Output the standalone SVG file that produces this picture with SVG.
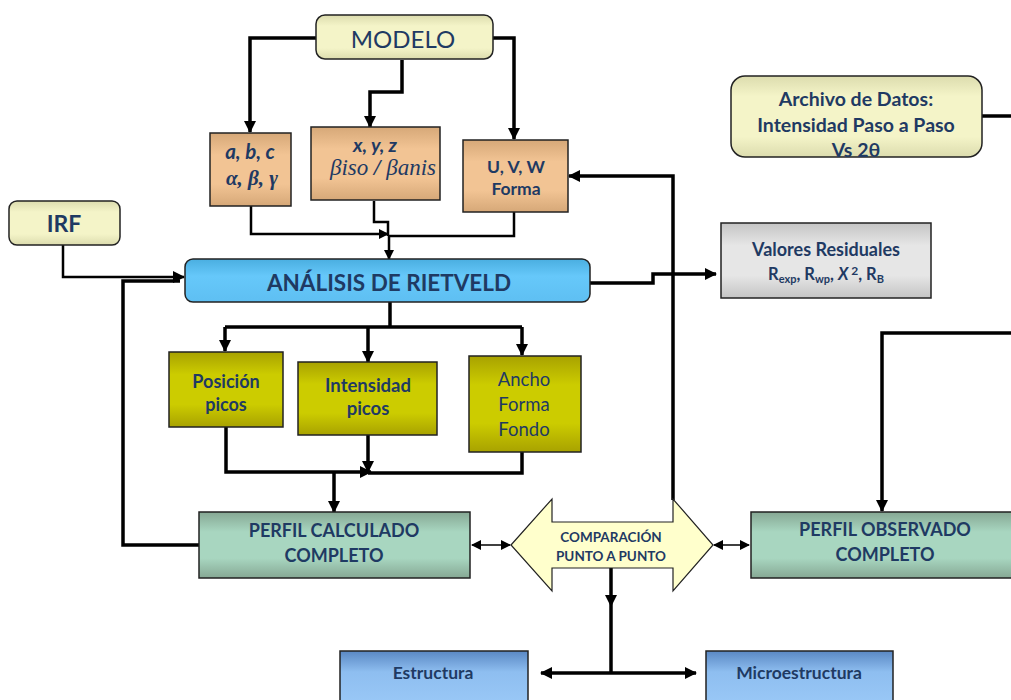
<svg xmlns="http://www.w3.org/2000/svg" width="1011" height="700" viewBox="0 0 1011 700">
<defs>
<linearGradient id="gYel" x1="0" y1="0" x2="0" y2="1"><stop offset="0" stop-color="#dcdcae"/><stop offset="0.25" stop-color="#f4f4c8"/><stop offset="0.75" stop-color="#f4f4c8"/><stop offset="1" stop-color="#dcdcae"/></linearGradient>
<linearGradient id="gTan" x1="0" y1="0" x2="0" y2="1"><stop offset="0" stop-color="#d6a878"/><stop offset="0.3" stop-color="#f2c494"/><stop offset="0.7" stop-color="#f2c494"/><stop offset="1" stop-color="#d6a878"/></linearGradient>
<linearGradient id="gBlue" x1="0" y1="0" x2="0" y2="1"><stop offset="0" stop-color="#4aaee0"/><stop offset="0.4" stop-color="#66c8fa"/><stop offset="1" stop-color="#5ebff2"/></linearGradient>
<linearGradient id="gGray" x1="0" y1="0" x2="0" y2="1"><stop offset="0" stop-color="#c4c4c4"/><stop offset="0.3" stop-color="#e6e6e6"/><stop offset="0.7" stop-color="#e6e6e6"/><stop offset="1" stop-color="#c4c4c4"/></linearGradient>
<linearGradient id="gOlive" x1="0" y1="0" x2="0" y2="1"><stop offset="0" stop-color="#a8a200"/><stop offset="0.3" stop-color="#cccc00"/><stop offset="0.7" stop-color="#cccc00"/><stop offset="1" stop-color="#a8a200"/></linearGradient>
<linearGradient id="gGreen" x1="0" y1="0" x2="0" y2="1"><stop offset="0" stop-color="#86a894"/><stop offset="0.3" stop-color="#a8d6c0"/><stop offset="0.7" stop-color="#a8d6c0"/><stop offset="1" stop-color="#86a894"/></linearGradient>
<linearGradient id="gSteel" x1="0" y1="0" x2="0" y2="1"><stop offset="0" stop-color="#5a88c4"/><stop offset="0.35" stop-color="#8ebef0"/><stop offset="1" stop-color="#9ccaf8"/></linearGradient>
<marker id="ah" viewBox="0 0 12 12" refX="11" refY="6" markerWidth="12" markerHeight="12" markerUnits="userSpaceOnUse" orient="auto"><path d="M0,0 L12,6 L0,12 Z" fill="#000"/></marker>
<marker id="ahs" viewBox="0 0 10 10" refX="9" refY="5" markerWidth="10" markerHeight="10" markerUnits="userSpaceOnUse" orient="auto"><path d="M0,0 L10,5 L0,10 Z" fill="#000"/></marker>
<marker id="ahsr" viewBox="0 0 10 10" refX="1" refY="5" markerWidth="10" markerHeight="10" markerUnits="userSpaceOnUse" orient="auto"><path d="M10,0 L0,5 L10,10 Z" fill="#000"/></marker>
</defs>
<style>
.box{stroke:#222;stroke-width:1.5}
.t{font-family:Lato,"Open Sans","Liberation Sans",sans-serif;fill:#1f3a63;text-anchor:middle}
.b{font-weight:bold}
.c{fill:none;stroke:#000;stroke-width:3.5}
.cm{fill:none;stroke:#000;stroke-width:2.5}
.ct{fill:none;stroke:#000;stroke-width:1.5}
</style>

<g id="connectors">
<path class="c" d="M316,38 H250 V132" marker-end="url(#ah)"/>
<path class="c" d="M402,60 V92 H370 V127" marker-end="url(#ah)"/>
<path class="c" d="M493,38 H514 V139" marker-end="url(#ah)"/>
<path class="cm" d="M251,206 V234 H388" marker-end="url(#ahs)"/>
<path class="cm" d="M374,201 V222 H388 V236"/>
<path class="cm" d="M514,212 V236 H389"/>
<path class="cm" d="M389,236 V259" marker-end="url(#ahs)"/>
<path class="cm" d="M63,245 V277 H184" marker-end="url(#ah)"/>
<path class="c" d="M200,545 H123 V281 H180"/>
<path class="c" d="M590,283 H653 V274 H716" marker-end="url(#ah)"/>
<path class="c" d="M982,116 H1011"/>
<path class="c" d="M1011,333 H882 V511" marker-end="url(#ah)"/>
<path class="c" d="M390,302 V327"/>
<path class="c" d="M225,327 H522"/>
<path class="c" d="M225,327 V351" marker-end="url(#ah)"/>
<path class="c" d="M368,327 V362" marker-end="url(#ah)"/>
<path class="c" d="M522,327 V355" marker-end="url(#ah)"/>
<path class="c" d="M226,427 V472 H371" marker-end="url(#ah)"/>
<path class="c" d="M368,435 V472" marker-end="url(#ah)"/>
<path class="c" d="M522,452 V473 H368"/>
<path class="c" d="M334,473 V512" marker-end="url(#ah)"/>
<path class="c" d="M673,500 V176 H569" marker-end="url(#ah)"/>
<path class="ct" d="M472,545 H510" marker-start="url(#ahsr)" marker-end="url(#ahs)"/>
<path class="ct" d="M714,545 H749" marker-start="url(#ahsr)" marker-end="url(#ahs)"/>
<path class="c" d="M611,568 V673"/>
<path d="M605,595 L617,595 L611,607 Z" fill="#000"/>
<path class="c" d="M611,673 H541" marker-end="url(#ah)"/>
<path class="c" d="M611,673 H696" marker-end="url(#ah)"/>
</g>

<g id="modelo">
<rect class="box" x="316" y="15" width="177" height="44" rx="9" fill="url(#gYel)"/>
<text class="t" x="403" y="48" font-size="24">MODELO</text>
</g>
<g id="abc">
<rect class="box" x="210" y="133" width="81" height="73" fill="url(#gTan)"/>
<text class="t b" x="250" y="159" font-size="20.5" font-style="italic">a, b,  c</text>
<text class="t b" x="252" y="185" font-size="21" font-style="italic" style="font-family:'Liberation Serif',serif">α, β, γ</text>
</g>
<g id="xyz">
<rect class="box" x="311" y="127" width="129" height="73" fill="url(#gTan)"/>
<text class="t b" x="375" y="152" font-size="19.5" font-style="italic">x, y, z</text>
<text class="t" x="383" y="175" font-size="23" font-style="italic" style="font-family:'Liberation Serif',serif">βiso <tspan font-weight="bold">/</tspan> βanis</text>
</g>
<g id="uvw">
<rect class="box" x="463" y="140" width="105" height="72" fill="url(#gTan)"/>
<text class="t b" x="516" y="173" font-size="17.5">U, V, W</text>
<text class="t b" x="516" y="195" font-size="17.5">Forma</text>
</g>
<g id="irf">
<rect class="box" x="9" y="201" width="111" height="44" rx="8" fill="url(#gYel)"/>
<text class="t b" x="64" y="232" font-size="23">IRF</text>
</g>
<g id="rietveld">
<rect class="box" x="185" y="259" width="405" height="43" rx="8" fill="url(#gBlue)"/>
<text class="t b" x="389" y="291" font-size="22.5">ANÁLISIS DE RIETVELD</text>
</g>
<g id="archivo">
<rect class="box" x="731" y="76" width="251" height="81" rx="14" fill="url(#gYel)"/>
<text class="t b" x="856" y="106" font-size="19.5">Archivo de Datos:</text>
<text class="t b" x="856" y="132" font-size="19.5">Intensidad Paso a Paso</text>
<text class="t b" x="856" y="157" font-size="19.5">Vs 2θ</text>
</g>
<g id="valores">
<rect class="box" x="721" y="223" width="210" height="75" fill="url(#gGray)"/>
<text class="t b" x="826" y="256" font-size="18">Valores Residuales</text>
<text class="t b" x="826" y="280" font-size="16.5">R<tspan font-size="11" dy="3">exp</tspan><tspan dy="-3">, R</tspan><tspan font-size="11" dy="3">wp</tspan><tspan dy="-3">, </tspan><tspan font-style="italic">X</tspan><tspan font-size="12" dy="-5"> 2</tspan><tspan dy="5">, R</tspan><tspan font-size="11" dy="3">B</tspan></text>
</g>
<g id="posicion">
<rect class="box" x="169" y="352" width="114" height="75" fill="url(#gOlive)"/>
<text class="t b" x="226" y="388" font-size="18">Posición</text>
<text class="t b" x="226" y="411" font-size="18">picos</text>
</g>
<g id="intensidad">
<rect class="box" x="298" y="362" width="139" height="73" fill="url(#gOlive)"/>
<text class="t b" x="368" y="392" font-size="18.5">Intensidad</text>
<text class="t b" x="368" y="415" font-size="18.5">picos</text>
</g>
<g id="ancho">
<rect class="box" x="469" y="356" width="112" height="96" fill="url(#gOlive)"/>
<text class="t" x="524" y="386" font-size="18.5">Ancho</text>
<text class="t" x="524" y="411" font-size="18.5">Forma</text>
<text class="t" x="524" y="436" font-size="18.5">Fondo</text>
</g>
<g id="calculado">
<rect class="box" x="199" y="512" width="271" height="66" fill="url(#gGreen)"/>
<text class="t b" x="334" y="537" font-size="18">PERFIL CALCULADO</text>
<text class="t b" x="334" y="562" font-size="18">COMPLETO</text>
</g>
<g id="comparacion">
<path d="M511,545 L552,499 L552,522 L673,522 L673,499 L713,545 L673,591 L673,568 L552,568 L552,591 Z" fill="#ffffcc" stroke="#222" stroke-width="1.2"/>
<text class="t b" x="611" y="542" font-size="13.5">COMPARACIÓN</text>
<text class="t b" x="611" y="561" font-size="13.5">PUNTO A PUNTO</text>
</g>
<g id="observado">
<rect class="box" x="751" y="512" width="270" height="66" fill="url(#gGreen)"/>
<text class="t b" x="885" y="536" font-size="18">PERFIL OBSERVADO</text>
<text class="t b" x="885" y="561" font-size="18">COMPLETO</text>
</g>
<g id="estructura">
<rect class="box" x="340" y="651" width="188" height="60" fill="url(#gSteel)"/>
<text class="t b" x="433" y="679" font-size="17.5">Estructura</text>
</g>
<g id="microestructura">
<rect class="box" x="706" y="651" width="187" height="60" fill="url(#gSteel)"/>
<text class="t b" x="799" y="679" font-size="17.5">Microestructura</text>
</g>
</svg>
